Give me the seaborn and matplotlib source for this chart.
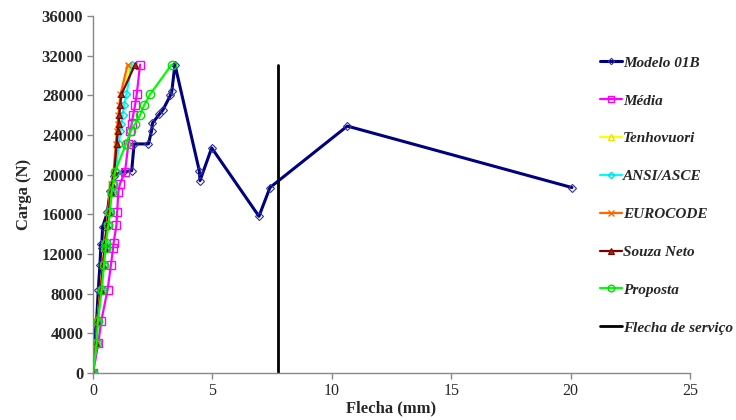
import matplotlib
matplotlib.use("Agg")
import matplotlib.pyplot as plt
import seaborn as sns

# experimental curve (Modelo 01B)
modelo_x = [0, 0.03, 0.15, 0.22, 0.29, 0.33, 0.36, 0.40, 0.60, 0.72, 0.88, 1.26, 1.62, 1.72,
            2.32, 2.45, 2.49, 2.78, 2.92, 3.24, 3.30, 3.43, 4.45, 4.48, 4.97, 6.95, 7.41, 10.65, 20.06]
modelo_y = [0, 3000, 5200, 8400, 10900, 13000, 12600, 14700, 16200, 18400, 19900, 20300, 20400, 23100,
            23100, 24400, 25200, 26100, 26500, 28000, 28400, 31100, 20400, 19400, 22700, 15800, 18700,
            24900, 18700]

# load steps for the theoretical / mean curves
cargas = [0, 3000, 5200, 8400, 10900, 12600, 13100, 14900, 16200, 18300, 19100, 20300,
          23100, 24400, 25100, 26000, 27000, 28100, 31100]

media_x = [0, 0.22, 0.34, 0.61, 0.75, 0.84, 0.86, 0.98, 1.01, 1.06, 1.13, 1.34,
           1.48, 1.55, 1.62, 1.68, 1.76, 1.83, 1.97]
tenhovuori_x = [0, 0.13, 0.18, 0.32, 0.41, 0.48, 0.49, 0.58, 0.64, 0.72, 0.78, 0.87,
                0.97, 1.02, 1.05, 1.08, 1.12, 1.17, 1.60]
ansi_x = [0, 0.14, 0.19, 0.35, 0.44, 0.51, 0.52, 0.62, 0.68, 0.76, 0.82, 0.95,
          1.08, 1.15, 1.19, 1.24, 1.30, 1.40, 1.62]
eurocode_x = [0, 0.12, 0.17, 0.31, 0.40, 0.47, 0.48, 0.57, 0.63, 0.71, 0.77, 0.86,
              0.95, 1.00, 1.03, 1.06, 1.10, 1.15, 1.45]
souza_x = [0, 0.13, 0.18, 0.33, 0.42, 0.49, 0.50, 0.59, 0.66, 0.74, 0.80, 0.89,
           0.99, 1.04, 1.07, 1.10, 1.14, 1.19, 1.76]
proposta_x = [0, 0.15, 0.20, 0.36, 0.46, 0.53, 0.54, 0.64, 0.71, 0.78, 0.85, 0.92,
              1.38, 1.58, 1.76, 1.97, 2.14, 2.39, 3.29]

# service deflection line
servico_x = [7.75, 7.75]
servico_y = [0, 31100]

sns.set_style("white")
plt.rcParams['font.family'] = ['Liberation Serif', 'DejaVu Serif']

fig = plt.figure(figsize=(7.36, 4.2), dpi=100)
ax = fig.add_axes([0.1264, 0.1119, 0.811, 0.850])

# no aggregation: each series is drawn point by point, in Excel order
common = dict(sort=False, estimator=None, errorbar=None, ax=ax)

sns.lineplot(x=modelo_x, y=modelo_y, color="#000080", linewidth=2.2,
             marker="D", markersize=4, markerfacecolor="none", markeredgecolor="#3030a0",
             markeredgewidth=0.8, label="Modelo 01B", **common)
sns.lineplot(x=media_x, y=cargas, color="#ff00ff", linewidth=1.6,
             marker="s", markersize=6, markerfacecolor="none", markeredgecolor="#ff00ff",
             markeredgewidth=1.0, label="Média", **common)
sns.lineplot(x=tenhovuori_x, y=cargas, color="#ffff00", linewidth=1.6,
             marker="^", markersize=5, markerfacecolor="none", markeredgecolor="#e6e600",
             markeredgewidth=1.0, label="Tenhovuori", **common)
sns.lineplot(x=ansi_x, y=cargas, color="#00ffff", linewidth=1.6,
             marker="D", markersize=4, markerfacecolor="none", markeredgecolor="#00e0e0",
             markeredgewidth=1.0, label="ANSI/ASCE", **common)
sns.lineplot(x=eurocode_x, y=cargas, color="#ff6600", linewidth=1.6,
             marker="x", markersize=5, markeredgecolor="#ff6600", markeredgewidth=1.0,
             label="EUROCODE", **common)
sns.lineplot(x=souza_x, y=cargas, color="#800000", linewidth=1.6,
             marker="^", markersize=5, markerfacecolor="#993300", markeredgecolor="#800000",
             markeredgewidth=0.8, label="Souza Neto", **common)
sns.lineplot(x=proposta_x, y=cargas, color="#00ff00", linewidth=1.6,
             marker="o", markersize=6, markerfacecolor="none", markeredgecolor="#00e000",
             markeredgewidth=1.0, label="Proposta", **common)
sns.lineplot(x=servico_x, y=servico_y, color="black", linewidth=2.0,
             label="Flecha de serviço", **common)

# axes
ax.set_xlim(0, 25)
ax.set_ylim(0, 36000)
ax.set_xticks(range(0, 26, 5))
ax.set_yticks(range(0, 36001, 4000))
ax.set_xlabel("Flecha (mm)", fontsize=12, fontweight="bold", labelpad=1)
ax.set_ylabel("Carga (N)", fontsize=12, fontweight="bold", labelpad=7)
ax.tick_params(axis="both", direction="out", length=4, color="#888888", width=1,
               pad=3, bottom=True, left=True)
ax.tick_params(axis="y", labelsize=12)
ax.tick_params(axis="x", labelsize=11.5)
for lab in ax.get_yticklabels():
    lab.set_fontweight("bold")
for side in ["top", "right"]:
    ax.spines[side].set_visible(False)
for side in ["left", "bottom"]:
    ax.spines[side].set_color("#888888")
    ax.spines[side].set_linewidth(1)

# legend on the right
ax.get_legend().remove()
handles, labels = ax.get_legend_handles_labels()
fig.legend(handles, labels, loc="upper left", bbox_to_anchor=(594 / 736, 1 - 50 / 420),
           frameon=False, prop={"family": "Liberation Serif", "weight": "bold",
                                "style": "italic", "size": 11},
           labelspacing=1.58, handlelength=1.45, handletextpad=0.05, borderaxespad=0,
           markerscale=0.8)

fig.savefig("out.png", dpi=100)
